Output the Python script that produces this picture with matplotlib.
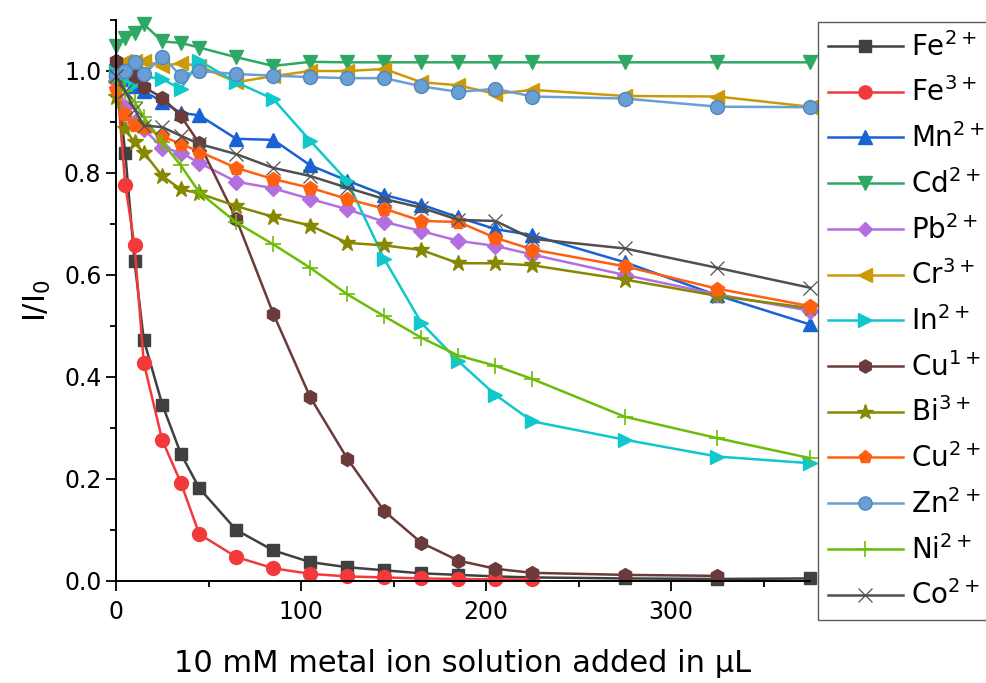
import matplotlib
matplotlib.use("Agg")
import matplotlib.pyplot as plt
from matplotlib.ticker import MultipleLocator

plt.rcParams['font.family'] = ['DejaVu Sans']
plt.rcParams['mathtext.fontset'] = 'custom'
plt.rcParams['mathtext.rm'] = 'DejaVu Sans'
plt.rcParams['mathtext.it'] = 'DejaVu Sans'

# ---- data ----
x = [0, 5, 10, 15, 25, 35, 45, 65, 85, 105, 125, 145, 165, 185, 205, 225, 275, 325, 375]

fe2 = [1.0, 0.84, 0.627, 0.473, 0.346, 0.25, 0.182, 0.10, 0.06, 0.037, 0.027, 0.021,
       0.015, 0.012, 0.009, 0.007, 0.005, 0.004, 0.005]
fe3 = [1.0, 0.777, 0.658, 0.428, 0.276, 0.193, 0.092, 0.047, 0.025, 0.014, 0.009, 0.007,
       0.005, 0.004, 0.003, 0.003]
mn2 = [1.0, 0.985, 0.97, 0.96, 0.94, 0.918, 0.913, 0.867, 0.865, 0.815, 0.785, 0.757,
       0.738, 0.713, 0.69, 0.678, 0.625, 0.56, 0.503]
cd2 = [1.05, 1.065, 1.075, 1.092, 1.058, 1.055, 1.046, 1.027, 1.01, 1.018, 1.017, 1.017,
       1.017, 1.017, 1.017, 1.017, 1.017, 1.017, 1.017]
pb2 = [0.98, 0.93, 0.90, 0.886, 0.85, 0.84, 0.82, 0.783, 0.77, 0.749, 0.729, 0.704,
       0.686, 0.667, 0.657, 0.64, 0.60, 0.562, 0.53]
cr3 = [1.0, 1.02, 1.02, 1.02, 1.01, 1.015, 1.01, 0.978, 0.99, 1.0, 1.0, 1.004,
       0.978, 0.972, 0.955, 0.963, 0.951, 0.95, 0.93]
in2 = [1.0, 0.985, 0.975, 0.99, 0.984, 0.965, 1.02, 0.978, 0.945, 0.863, 0.784, 0.631,
       0.506, 0.431, 0.365, 0.313, 0.277, 0.244, 0.231]
cu1 = [1.02, 1.0, 0.99, 0.968, 0.948, 0.912, 0.858, 0.71, 0.524, 0.36, 0.24, 0.137,
       0.075, 0.04, 0.024, 0.016, 0.012, 0.01]
bi3 = [0.95, 0.886, 0.86, 0.84, 0.794, 0.768, 0.76, 0.735, 0.714, 0.697, 0.663, 0.658,
       0.649, 0.623, 0.623, 0.619, 0.591, 0.559, 0.535]
cu2 = [0.965, 0.915, 0.895, 0.89, 0.872, 0.857, 0.842, 0.81, 0.788, 0.771, 0.749, 0.73,
       0.706, 0.704, 0.673, 0.65, 0.617, 0.573, 0.539]
zn2 = [0.99, 1.0, 1.017, 0.994, 1.028, 0.991, 1.0, 0.994, 0.991, 0.988, 0.986, 0.986,
       0.97, 0.959, 0.965, 0.95, 0.946, 0.93, 0.929]
ni2 = [0.98, 0.96, 0.94, 0.91, 0.86, 0.815, 0.762, 0.703, 0.66, 0.614, 0.562, 0.519,
       0.477, 0.442, 0.422, 0.396, 0.322, 0.28, 0.241]
co2 = [0.99, 0.96, 0.925, 0.893, 0.89, 0.873, 0.857, 0.837, 0.81, 0.794, 0.771, 0.749,
       0.732, 0.708, 0.706, 0.671, 0.652, 0.614, 0.575]

labels = ['Fe$^{2+}$', 'Fe$^{3+}$', 'Mn$^{2+}$', 'Cd$^{2+}$', 'Pb$^{2+}$', 'Cr$^{3+}$',
          'In$^{2+}$', 'Cu$^{1+}$', 'Bi$^{3+}$', 'Cu$^{2+}$', 'Zn$^{2+}$', 'Ni$^{2+}$',
          'Co$^{2+}$']
series = [fe2, fe3, mn2, cd2, pb2, cr3, in2, cu1, bi3, cu2, zn2, ni2, co2]

styles = [
    dict(color='#404040', marker='s', ms=9),
    dict(color='#f23a3a', marker='o', ms=10),
    dict(color='#1862d6', marker='^', ms=10),
    dict(color='#2fa866', marker='v', ms=10),
    dict(color='#b46ee0', marker='D', ms=8),
    dict(color='#cc9a06', marker='<', ms=10),
    dict(color='#10c8cc', marker='>', ms=10),
    dict(color='#6b3a3a', marker='h', ms=10),
    dict(color='#858800', marker='*', ms=12),
    dict(color='#ff6010', marker='p', ms=10),
    dict(color='#6a9fd4', marker='o', ms=10, mec='#4f86c0'),
    dict(color='#6cbc08', marker='+', ms=12, mew=1.2),
    dict(color='#505050', marker='x', ms=10, mew=0.9),
]

fig = plt.figure(figsize=(9.87, 6.83), dpi=100)
ax = fig.add_axes([116 / 987, 1 - 581 / 683, (810 - 116) / 987, (581 - 20) / 683])

handles = []
for ys, lab, st in zip(series, labels, styles):
    h, = ax.plot(x[:len(ys)], ys, lw=1.8, label=lab, clip_on=False, **st)
    handles.append(h)

ax.set_xlim(0, 375)
ax.set_ylim(0, 1.1)
ax.xaxis.set_major_locator(MultipleLocator(100))
ax.xaxis.set_minor_locator(MultipleLocator(50))
ax.yaxis.set_major_locator(MultipleLocator(0.2))
ax.yaxis.set_minor_locator(MultipleLocator(0.1))
ax.yaxis.set_major_formatter(matplotlib.ticker.FormatStrFormatter('%.1f'))

for s in ['top', 'right']:
    ax.spines[s].set_visible(False)
for s in ['left', 'bottom']:
    ax.spines[s].set_linewidth(1.4)
ax.tick_params(which='major', direction='out', length=7, width=1.3, labelsize=17)
ax.tick_params(axis='x', which='major', pad=7)
ax.tick_params(which='minor', direction='out', length=4, width=1.3)

ax.set_xlabel('10 mM metal ion solution added in μL', fontsize=22, labelpad=18)
ax.set_ylabel(r'I/I$_\mathregular{0}$', fontsize=22, labelpad=8)

leg = fig.legend(handles=handles, loc='upper left',
                 bbox_to_anchor=(818 / 987, 1 - 22 / 683),
                 fontsize=20, frameon=True, fancybox=False, edgecolor='#333333',
                 handlelength=2.7, handletextpad=0.3, labelspacing=0.57,
                 borderpad=0.35, borderaxespad=0, markerscale=0.95)
leg.get_frame().set_linewidth(1.0)

fig.savefig('out.png', dpi=100)
